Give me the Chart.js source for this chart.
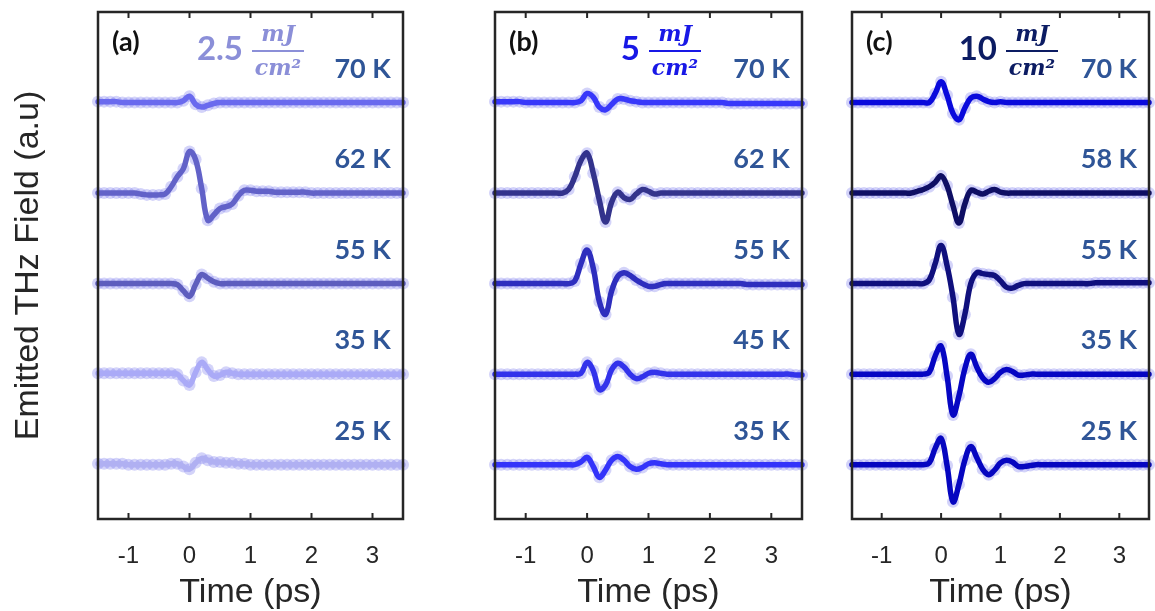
<!DOCTYPE html>
<html>
<head>
<meta charset="utf-8">
<script src="https://cdn.jsdelivr.net/npm/chart.js@4.4.1/dist/chart.umd.min.js"></script>
<style>
  html, body { margin: 0; padding: 0; background: #fff; }
  body { width: 1155px; height: 611px; position: relative; overflow: hidden; }
  canvas { position: absolute; top: 0; }
</style>
</head>
<body>
<canvas id="chartA" width="415" height="611" style="left:0px"></canvas>
<canvas id="chartB" width="330" height="611" style="left:485px"></canvas>
<canvas id="chartC" width="313" height="611" style="left:842px"></canvas>
<script>
// time axis (ps), shared by every trace
const time = [-1.5,-1.4,-1.3,-1.2,-1.1,-1.0,-0.9,-0.8,-0.7,-0.6,
  -0.5,-0.4,-0.3,-0.2,-0.1,0.0,0.1,0.2,0.3,0.4,0.5,0.6,0.7,0.8,0.9,1.0,1.1,1.2,1.3,1.4,1.5,
  1.6,1.7,1.8,1.9,2.0,2.1,2.2,2.3,2.4,2.5,2.6,2.7,2.8,2.9,3.0,3.1,3.2,3.3,3.4,3.5];
const timeTicks = [-1, 0, 1, 2, 3];

// vertical offset of each trace (top to bottom)
const offsets = [400, 300, 200, 100, 0];

// (a) 2.5 mJ/cm2
const tempsA = ['70 K', '62 K', '55 K', '35 K', '25 K'];
const a70 = [1,1,1,1,0,0,0,0,0,0, 0,0,0,0,2,7,-2,-5,-3,-1,0,0,0,0,0,0,0,0,0,0,0, 0,0,0,0,0,0,0,0,0,0,0,0,0,0,0,0,0,0,0,0];
const a62 = [0,0,0,0,0,0,0,-1,-2,-2, -2,-1,7,18,27,46,37,5,-30,-24,-17,-15,-12,-3,3,3,2,2,2,1,1, 1,1,1,1,0,0,0,0,0,0,0,0,0,0,0,0,0,0,0,0];
const a55 = [0,0,0,0,0,0,0,0,0,0, 0,0,0,-1,-8,-14,-1,10,6,2,0,0,0,0,0,0,0,0,0,0,0, 0,0,0,0,0,0,0,0,0,0,0,0,0,0,0,0,0,0,0,0];
const a35 = [1,1,1,1,1,1,1,1,1,1, 1,1,1,0,-7,-12,2,13,5,-2,-1,2,1,0,0,0,0,0,0,0,0, 0,0,0,0,0,0,0,0,0,0,0,0,0,0,0,0,0,0,0,0];
const a25 = [1,1,1,1,1,0,0,0,0,0, 0,0,1,1,-2,-5,2,7,5,3,3,2,2,1,1,0,0,0,0,0,0, 0,0,0,0,0,0,0,0,0,0,0,0,0,0,0,0,0,0,0,0];

// (b) 5 mJ/cm2
const tempsB = ['70 K', '62 K', '55 K', '45 K', '35 K'];
const b70 = [1,1,1,1,1,0,0,0,0,0, 0,0,0,0,2,10,6,-5,-8,-2,4,4,2,1,0,0,0,0,0,0,0, 0,0,0,0,0,0,0,-1,-1,-1,-1,-1,-1,-1,-1,-1,-1,-1,-1,-1];
const b62 = [0,0,0,0,0,0,0,0,0,0, 0,0,4,18,36,44,22,-8,-32,-10,1,-5,-7,-1,4,2,-1,0,0,0,0, 0,0,0,0,0,0,0,0,0,0,0,0,0,0,0,0,0,0,0,0];
const b55 = [0,0,0,0,0,0,0,0,0,0, 0,0,0,3,22,37,17,-20,-34,-8,8,12,9,4,0,-3,-3,-1,0,0,0, 0,0,0,0,0,0,0,0,0,0,-1,-1,-1,-1,-1,-1,-1,-1,-1,-1];
const b45 = [0,0,0,0,0,0,0,0,0,0, 0,0,0,0,1,13,4,-17,-12,5,12,8,0,-5,-3,1,2,1,0,0,0, 0,0,0,0,0,0,0,0,0,0,0,0,0,0,0,0,0,0,-1,-1];
const b35 = [0,0,0,0,0,0,0,0,0,0, 0,0,0,0,3,8,-2,-14,-6,5,9,5,-2,-5,-3,1,2,1,0,0,0, 0,0,0,0,0,0,0,0,0,0,0,0,0,0,0,0,0,0,0,0];

// (c) 10 mJ/cm2
const tempsC = ['70 K', '58 K', '55 K', '35 K', '25 K'];
const c70 = [0,0,0,0,0,0,0,0,0,0, 0,0,0,0,10,23,8,-12,-19,-6,5,7,4,1,0,1,0,0,0,0,0, 0,0,0,0,0,0,0,0,0,0,0,0,0,0,0,0,0,0,0,0];
const c58 = [0,0,0,0,0,0,0,0,0,0, 0,2,4,7,12,19,8,-14,-33,-12,3,1,-1,2,4,1,0,0,0,0,0, 0,0,0,0,0,0,0,0,0,0,0,0,0,0,0,0,0,0,0,0];
const c55 = [0,0,0,0,0,0,0,0,0,0, 0,0,0,4,22,42,20,-15,-56,-34,0,12,11,10,9,3,-4,-5,-2,0,0, 0,0,0,0,0,0,0,0,0,0,1,1,1,1,1,1,1,1,1,1];
const c35 = [0,0,0,0,0,0,0,0,0,0, 0,0,0,2,20,31,-2,-45,-24,6,22,8,-4,-9,-5,2,5,3,-1,-1,0, 0,0,0,0,0,0,0,0,0,0,0,0,0,0,0,0,0,0,0,0];
const c25 = [0,0,0,0,0,0,0,0,0,0, 0,0,0,2,18,29,-1,-41,-22,5,20,8,-5,-11,-6,2,5,3,-2,-2,-1, 0,0,0,0,0,0,0,0,0,0,0,0,0,0,0,0,0,0,0,0];

const colorsA = ['#6A6AEE', '#6262C8', '#5D5DBE', '#AAAAF7', '#B0B0F2'];
const colorsB = ['#3838FA', '#33338C', '#2E2EBE', '#3333EB', '#3434FA'];
const colorsC = ['#0A0ADC', '#0F0F64', '#10107D', '#0606C3', '#0606C0'];
const dotColor = 'rgba(110, 110, 235, 0.3)';
const labelColor = '#2F5597';

function buildDatasets(series, colors) {
  const sets = [];
  series.forEach((vals, k) => {
    const pts = time.map((t, i) => ({ x: t, y: offsets[k] + vals[i] }));
    sets.push({
      type: 'line', data: pts, borderColor: colors[k], borderWidth: 5.5,
      pointRadius: 0, tension: 0.4, order: 1, clip: 3,
      borderCapStyle: 'round', borderJoinStyle: 'round'
    });
    sets.push({
      type: 'scatter', data: pts, showLine: false, pointRadius: 6,
      pointBackgroundColor: dotColor, pointBorderWidth: 0, order: 2, clip: false
    });
  });
  return sets;
}

// frame, inward ticks, temperature and fluence labels
const framePlugin = {
  id: 'frame',
  afterDraw(chart, args, opts) {
    const { ctx, chartArea: a, scales } = chart;
    const xs = scales.x, ys = scales.y;
    ctx.save();
    ctx.strokeStyle = '#262626';
    ctx.lineWidth = 2.5;
    ctx.strokeRect(a.left, a.top, a.right - a.left, a.bottom - a.top);
    ctx.lineWidth = 2;
    timeTicks.forEach(v => {
      const px = xs.getPixelForValue(v);
      ctx.beginPath();
      ctx.moveTo(px, a.bottom); ctx.lineTo(px, a.bottom - 6);
      ctx.moveTo(px, a.top); ctx.lineTo(px, a.top + 6);
      ctx.stroke();
    });

    ctx.textBaseline = 'middle';
    ctx.font = 'bold 27px Lato';
    ctx.fillStyle = labelColor;
    ctx.textAlign = 'right';
    opts.temps.forEach((t, k) => {
      ctx.fillText(t, xs.getPixelForValue(3.3), ys.getPixelForValue(offsets[k] + 37));
    });

    ctx.fillStyle = '#111';
    ctx.textAlign = 'left';
    ctx.font = 'bold 27px Lato';
    ctx.fillText(opts.tag, a.left + 14, a.top + 30);

    ctx.fillStyle = opts.fluxColor;
    ctx.textAlign = 'right';
    ctx.font = 'bold 33px Lato';
    ctx.fillText(opts.flux, a.left + 145, a.top + 37);
    const fx = a.left + 180;
    ctx.textAlign = 'center';
    ctx.font = 'italic bold 22px "DejaVu Serif"';
    ctx.fillText('mJ', fx, a.top + 23);
    ctx.fillText('cm\u00B2', fx, a.top + 57);
    ctx.strokeStyle = opts.fluxColor;
    ctx.lineWidth = 2;
    ctx.beginPath();
    ctx.moveTo(fx - 26, a.top + 39); ctx.lineTo(fx + 26, a.top + 39);
    ctx.stroke();
    ctx.restore();
  }
};

function makeChart(id, series, colors, opts, showYTitle, pad) {
  new Chart(document.getElementById(id), {
    type: 'line',
    data: { datasets: buildDatasets(series, colors) },
    plugins: [framePlugin],
    options: {
      responsive: false,
      animation: false,
      layout: { padding: { top: 12, left: pad.left, right: pad.right, bottom: 0 } },
      plugins: { legend: { display: false }, tooltip: { enabled: false }, frame: opts },
      scales: {
        x: {
          type: 'linear', min: -1.5, max: 3.5,
          grid: { display: false }, border: { display: false },
          afterBuildTicks(scale) { scale.ticks = timeTicks.map(v => ({ value: v })); },
          ticks: {
            autoSkip: false, maxRotation: 0, minRotation: 0,
            padding: 15, color: '#262626',
            font: { family: 'Liberation Sans', size: 24 }
          },
          title: {
            display: true, text: 'Time (ps)', color: '#262626',
            font: { family: 'Liberation Sans', size: 34, lineHeight: 1 },
            padding: { top: 0, bottom: 1 }
          },
          afterFit(scale) { scale.height = 92; }
        },
        y: {
          display: showYTitle, min: -60, max: 500,
          grid: { display: false }, border: { display: false },
          ticks: { display: false },
          title: {
            display: showYTitle, text: 'Emitted THz Field (a.u)', color: '#262626',
            font: { family: 'Liberation Sans', size: 34, lineHeight: 1 },
            padding: { top: 12, bottom: 0 }
          },
          afterFit(scale) { scale.width = showYTitle ? 98 : 0; }
        }
      }
    }
  });
}

makeChart('chartA', [a70, a62, a55, a35, a25], colorsA,
  { temps: tempsA, tag: '(a)', flux: '2.5', fluxColor: '#8B8FD8' }, true, { left: 0, right: 12 });
makeChart('chartB', [b70, b62, b55, b45, b35], colorsB,
  { temps: tempsB, tag: '(b)', flux: '5', fluxColor: '#1818E6' }, false, { left: 10, right: 13 });
makeChart('chartC', [c70, c58, c55, c35, c25], colorsC,
  { temps: tempsC, tag: '(c)', flux: '10', fluxColor: '#0C1C63' }, false, { left: 10, right: 1 });
</script>
</body>
</html>
